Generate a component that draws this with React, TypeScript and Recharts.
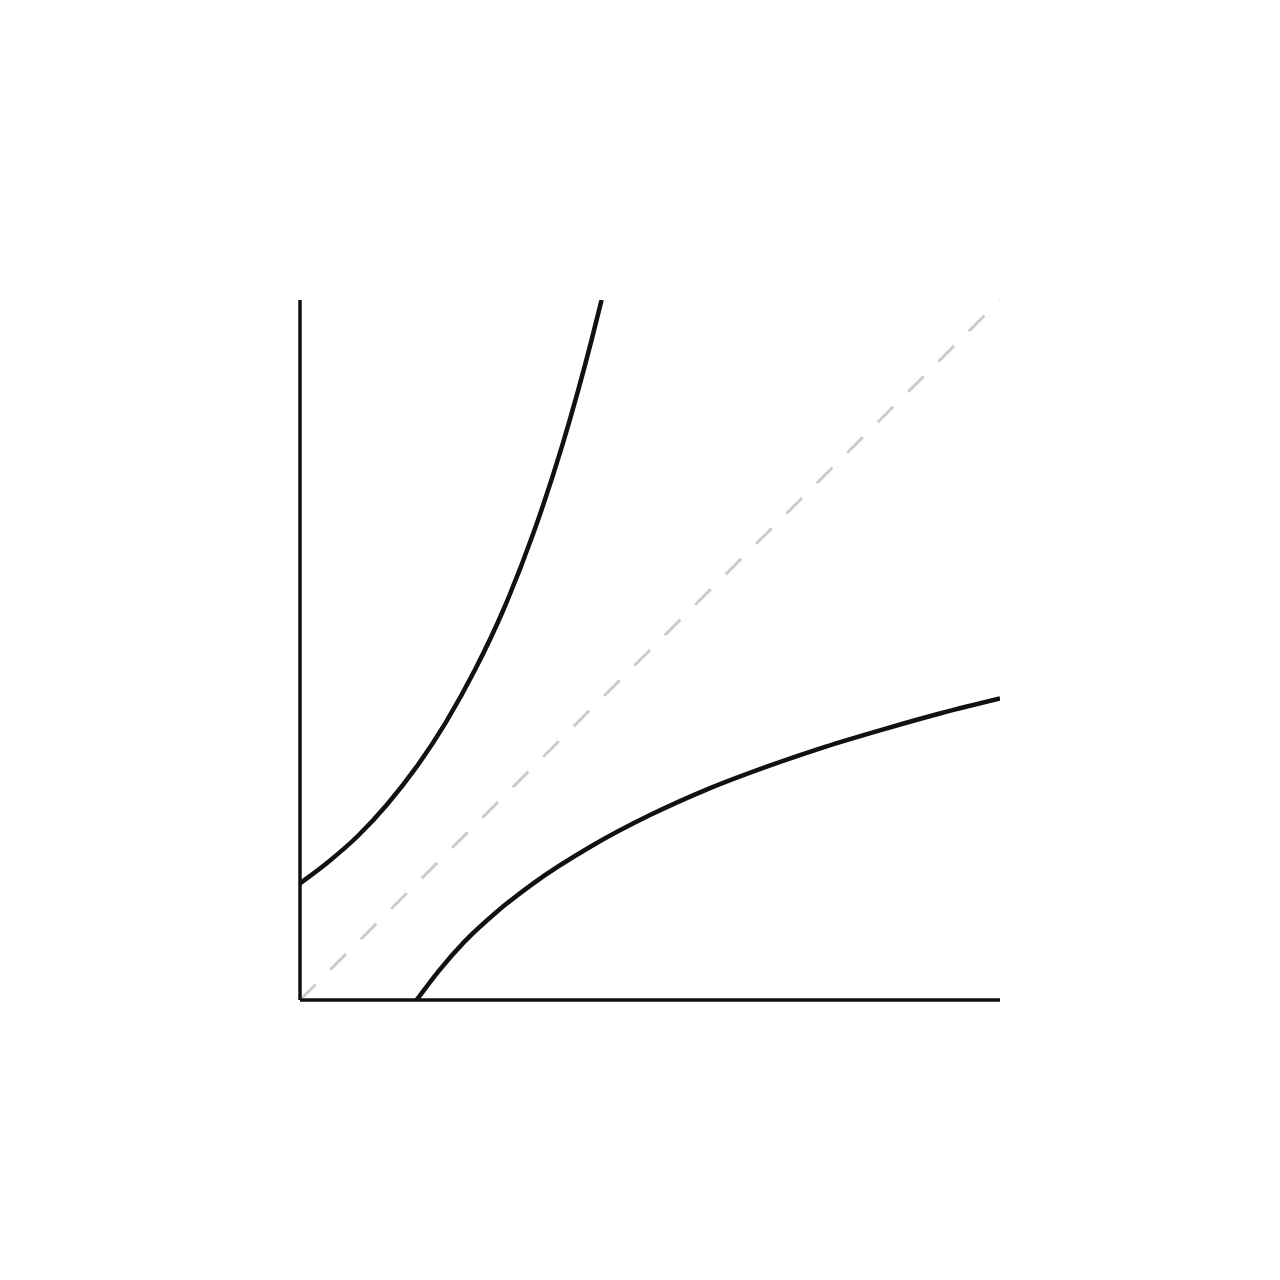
import { LineChart, Line, XAxis, YAxis } from 'recharts';

// exponential branch
const expX = [0, 0.25, 0.5, 0.75, 1, 1.25, 1.5, 1.75, 2, 2.25, 2.5, 2.585];
const expY = [1, 1.19, 1.41, 1.68, 2, 2.38, 2.83, 3.36, 4, 4.76, 5.66, 6];

// logarithmic branch (mirror of the one above)
const logX = [1, 1.19, 1.41, 1.68, 2, 2.5, 3, 3.5, 4, 4.5, 5, 5.5, 6];
const logY = [0, 0.25, 0.5, 0.75, 1, 1.32, 1.585, 1.81, 2, 2.17, 2.32, 2.46, 2.585];

// dashed diagonal
const diagX = [0, 6];
const diagY = [0, 6];

const toPoints = (xs: number[], ys: number[]) => xs.map((x, i) => ({ x, y: ys[i] }));

export default function App() {
  const expData = toPoints(expX, expY);
  const logData = toPoints(logX, logY);
  const diagData = toPoints(diagX, diagY);

  return (
    <LineChart width={1264} height={1264} margin={{ top: 292, left: 291, right: 272, bottom: 271 }}>
      <XAxis
        type="number"
        dataKey="x"
        domain={[0, 6]}
        allowDataOverflow
        tick={false}
        tickLine={false}
        height={1}
        axisLine={{ stroke: '#111', strokeWidth: 3.5 }}
      />
      <YAxis
        type="number"
        dataKey="y"
        domain={[0, 6]}
        allowDataOverflow
        tick={false}
        tickLine={false}
        width={1}
        axisLine={{ stroke: '#111', strokeWidth: 3.5 }}
      />
      <Line
        data={diagData}
        dataKey="y"
        type="linear"
        stroke="#cccccc"
        strokeWidth={3}
        strokeDasharray="22 21"
        dot={false}
        isAnimationActive={false}
      />
      <Line data={expData} dataKey="y" type="monotone" stroke="#111" strokeWidth={4.5} dot={false} isAnimationActive={false} />
      <Line data={logData} dataKey="y" type="monotone" stroke="#111" strokeWidth={4.5} dot={false} isAnimationActive={false} />
    </LineChart>
  );
}
